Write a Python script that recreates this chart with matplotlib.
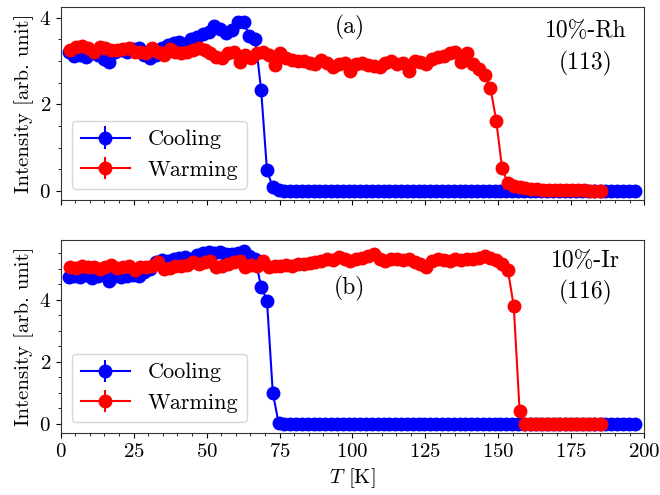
import matplotlib
matplotlib.use("Agg")
import matplotlib.pyplot as plt
from matplotlib.ticker import MultipleLocator

plt.rcParams['font.family'] = 'serif'
plt.rcParams['font.serif'] = ['cmr10']
plt.rcParams['mathtext.fontset'] = 'cm'
plt.rcParams['axes.unicode_minus'] = False
plt.rcParams['axes.formatter.use_mathtext'] = True

# temperatures (K)
t_cool = [2.7, 4.7, 6.7, 8.7, 10.7, 12.7, 14.7, 16.7, 18.7, 20.7,
          22.7, 24.7, 26.7, 28.7, 30.7, 32.7, 34.7, 36.7, 38.7, 40.7,
          42.7, 44.7, 46.7, 48.7, 50.7, 52.7, 54.7, 56.7, 58.7, 60.7,
          62.7, 64.7, 66.7, 68.7, 70.7, 72.7, 74.7, 76.7, 78.7, 80.7,
          82.7, 84.7, 86.7, 88.7, 90.7, 92.7, 94.7, 96.7, 98.7, 100.7,
          102.7, 104.7, 106.7, 108.7, 110.7, 112.7, 114.7, 116.7, 118.7, 120.7,
          122.7, 124.7, 126.7, 128.7, 130.7, 132.7, 134.7, 136.7, 138.7, 140.7,
          142.7, 144.7, 146.7, 148.7, 150.7, 152.7, 154.7, 156.7, 158.7, 160.7,
          162.7, 164.7, 166.7, 168.7, 170.7, 172.7, 174.7, 176.7, 178.7, 180.7,
          182.7, 184.7, 186.7, 188.7, 190.7, 192.7, 194.7, 196.7]
t_warm = [3.3, 5.3, 7.3, 9.3, 11.3, 13.3, 15.3, 17.3, 19.3, 21.3,
          23.3, 25.3, 27.3, 29.3, 31.3, 33.3, 35.3, 37.3, 39.3, 41.3,
          43.3, 45.3, 47.3, 49.3, 51.3, 53.3, 55.3, 57.3, 59.3, 61.3,
          63.3, 65.3, 67.3, 69.3, 71.3, 73.3, 75.3, 77.3, 79.3, 81.3,
          83.3, 85.3, 87.3, 89.3, 91.3, 93.3, 95.3, 97.3, 99.3, 101.3,
          103.3, 105.3, 107.3, 109.3, 111.3, 113.3, 115.3, 117.3, 119.3, 121.3,
          123.3, 125.3, 127.3, 129.3, 131.3, 133.3, 135.3, 137.3, 139.3, 141.3,
          143.3, 145.3, 147.3, 149.3, 151.3, 153.3, 155.3, 157.3, 159.3, 161.3,
          163.3, 165.3, 167.3, 169.3, 171.3, 173.3, 175.3, 177.3, 179.3, 181.3,
          183.3, 185.3]

# (a) 10%-Rh (113)
rh_cool = [3.22, 3.12, 3.15, 3.10, 3.18, 3.15, 3.05, 2.97, 3.20, 3.25,
           3.20, 3.28, 3.30, 3.15, 3.08, 3.15, 3.30, 3.38, 3.42, 3.45,
           3.40, 3.52, 3.55, 3.62, 3.68, 3.80, 3.75, 3.65, 3.72, 3.90,
           3.90, 3.57, 3.52, 2.33, 0.48, 0.08, 0.01, 0.00, 0.00, 0.00,
           0.00, 0.00, 0.00, 0.00, 0.00, 0.00, 0.00, 0.00, 0.00, 0.00,
           0.00, 0.00, 0.00, 0.00, 0.00, 0.00, 0.00, 0.00, 0.00, 0.00,
           0.00, 0.00, 0.00, 0.00, 0.00, 0.00, 0.00, 0.00, 0.00, 0.00,
           0.00, 0.00, 0.00, 0.00, 0.00, 0.00, 0.00, 0.00, 0.00, 0.00,
           0.00, 0.00, 0.00, 0.00, 0.00, 0.00, 0.00, 0.00, 0.00, 0.00,
           0.00, 0.00, 0.00, 0.00, 0.00, 0.00, 0.00, 0.00]
rh_warm = [3.25, 3.32, 3.35, 3.30, 3.20, 3.33, 3.30, 3.25, 3.26, 3.28,
           3.30, 3.22, 3.20, 3.18, 3.30, 3.22, 3.14, 3.28, 3.20, 3.18,
           3.22, 3.25, 3.30, 3.25, 3.18, 3.10, 3.06, 3.18, 3.22, 2.97,
           3.13, 3.06, 3.18, 3.22, 3.15, 2.91, 3.18, 3.06, 3.03, 3.00,
           2.99, 2.95, 2.92, 3.03, 2.95, 2.87, 2.93, 2.95, 2.78, 2.92,
           2.95, 2.91, 2.88, 2.87, 2.95, 3.00, 2.92, 2.95, 2.78, 3.00,
           2.97, 2.93, 3.05, 3.10, 3.12, 3.18, 3.20, 2.98, 3.18, 2.92,
           2.82, 2.68, 2.38, 1.62, 0.52, 0.18, 0.12, 0.08, 0.06, 0.05,
           0.04, 0.03, 0.03, 0.02, 0.02, 0.01, 0.01, 0.01, 0.01, 0.00,
           0.00, 0.00]

# (b) 10%-Ir (116)
ir_cool = [4.72, 4.75, 4.72, 4.78, 4.70, 4.76, 4.80, 4.60, 4.75, 4.72,
           4.77, 4.80, 4.76, 4.88, 5.00, 5.20, 5.27, 5.25, 5.30, 5.35,
           5.38, 5.30, 5.45, 5.50, 5.52, 5.50, 5.55, 5.48, 5.47, 5.50,
           5.57, 5.40, 5.30, 4.42, 3.97, 1.00, 0.02, 0.00, 0.00, 0.00,
           0.00, 0.00, 0.00, 0.00, 0.00, 0.00, 0.00, 0.00, 0.00, 0.00,
           0.00, 0.00, 0.00, 0.00, 0.00, 0.00, 0.00, 0.00, 0.00, 0.00,
           0.00, 0.00, 0.00, 0.00, 0.00, 0.00, 0.00, 0.00, 0.00, 0.00,
           0.00, 0.00, 0.00, 0.00, 0.00, 0.00, 0.00, 0.00, 0.00, 0.00,
           0.00, 0.00, 0.00, 0.00, 0.00, 0.00, 0.00, 0.00, 0.00, 0.00,
           0.00, 0.00, 0.00, 0.00, 0.00, 0.00, 0.00, 0.00]
ir_warm = [5.05, 5.02, 5.08, 5.06, 5.05, 5.00, 5.05, 5.12, 5.02, 5.06,
           5.10, 4.96, 5.05, 5.04, 5.10, 5.22, 4.99, 5.02, 5.10, 5.08,
           5.12, 5.22, 5.15, 5.20, 5.26, 5.04, 5.10, 5.15, 5.20, 5.26,
           5.06, 5.12, 5.10, 5.26, 5.04, 5.08, 5.10, 5.12, 5.10, 5.15,
           5.15, 5.18, 5.20, 5.25, 5.31, 5.28, 5.36, 5.30, 5.25, 5.30,
           5.35, 5.40, 5.47, 5.30, 5.26, 5.32, 5.30, 5.28, 5.31, 5.20,
           5.15, 5.04, 5.26, 5.30, 5.28, 5.25, 5.30, 5.28, 5.31, 5.30,
           5.35, 5.42, 5.35, 5.28, 5.15, 4.94, 3.79, 0.42, 0.00, 0.00,
           0.00, 0.00, 0.00, 0.00, 0.00, 0.00, 0.00, 0.00, 0.00, 0.00,
           0.00, 0.00]

panels = [
    (rh_cool, rh_warm, '(a)', '10%-Rh\n(113)', (-0.21, 4.25), (3.77, 3.3)),
    (ir_cool, ir_warm, '(b)', '10%-Ir\n(116)', (-0.3, 5.92), (4.36, 4.72)),
]

fig = plt.figure(figsize=(6.6, 4.95), dpi=100)
ax1 = fig.add_axes([0.092, 0.596, 0.884, 0.39])
ax2 = fig.add_axes([0.092, 0.125, 0.884, 0.39], sharex=ax1)

for ax, (cool, warm, tag, label, ylim, ypos) in zip([ax1, ax2], panels):
    ax.errorbar(t_cool, cool, yerr=0.03, fmt='-o', color='blue', ms=9, lw=1.5,
                label='Cooling')
    ax.errorbar(t_warm, warm, yerr=0.03, fmt='-o', color='red', ms=9, lw=1.5,
                label='Warming')
    ax.set_ylim(*ylim)
    ax.set_xlim(0, 200)
    ax.xaxis.set_major_locator(MultipleLocator(25))
    ax.xaxis.set_minor_locator(MultipleLocator(5))
    ax.yaxis.set_major_locator(MultipleLocator(2))
    ax.yaxis.set_minor_locator(MultipleLocator(0.5))
    ax.tick_params(labelsize=15)
    ax.set_ylabel('Intensity [arb. unit]', fontsize=15)
    ax.text(99, ypos[0], tag, fontsize=17, ha='center', va='center')
    ax.text(180, ypos[1], label, fontsize=17, ha='center', va='center',
            linespacing=1.45)
    ax.legend(loc='lower left', fontsize=16, handlelength=2.2)
    for s in ax.spines.values():
        s.set_color('#333333')

ax1.tick_params(labelbottom=False)
ax2.set_xlabel('$T$ [K]', fontsize=15)

fig.savefig('out.png', dpi=100)
